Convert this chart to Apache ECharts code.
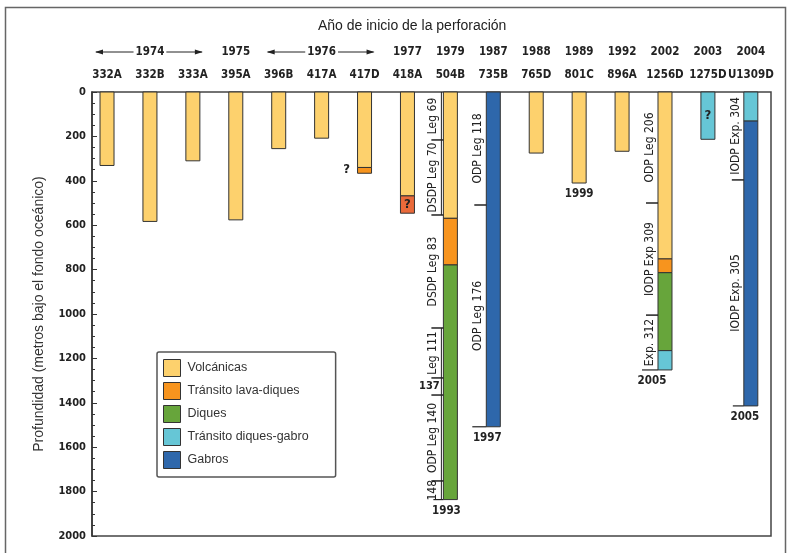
<!DOCTYPE html>
<html><head><meta charset="utf-8">
<script src="https://cdn.jsdelivr.net/npm/echarts@6/dist/echarts.min.js"></script>
<style>html,body{margin:0;padding:0;background:#fff}#c{width:788px;height:553px}</style>
</head><body><div id="c"></div>
<script>
// ---------- DATA ----------
const sites = ['332A','332B','333A','395A','396B','417A','417D','418A','504B','735B','765D','801C','896A','1256D','1275D','U1309D'];
const yearLabels = ['1974','1975','1976','1977','1979','1987','1988','1989','1992','2002','2003','2004'];
const yearFrom   = [0, 3, 4, 7, 8, 9, 10, 11, 12, 13, 14, 15];
const yearTo     = [2, 3, 6, 7, 8, 9, 10, 11, 12, 13, 14, 15];
const depthTicks = [0, 200, 400, 600, 800, 1000, 1200, 1400, 1600, 1800, 2000];

// intervals: [siteIndex, topDepth, bottomDepth] (m below seafloor)
const volcanicas = [[0,0,331],[1,0,583],[2,0,310],[3,0,576],[4,0,255],[5,0,208],[6,0,340],[7,0,468],[8,0,569],[10,0,275],[11,0,410],[12,0,267],[13,0,752]];
const transitoLava = [[6,340,366],[8,569,779],[13,752,814]];
const transitoLavaIncierto = [[7,468,546]];
const diques = [[8,779,1836],[13,814,1165]];
const transitoGabro = [[13,1165,1252],[14,0,213],[15,0,131]];
const gabros = [[9,0,1508],[15,131,1414]];

// drilling legs: [siteIndex, top, bottom, label, horizontal?]
const legs = [
  [8,0,216,'Leg 69'],[8,216,554,'DSDP Leg 70'],[8,554,1063,'DSDP Leg 83'],[8,1063,1288,'Leg 111'],
  [8,1288,1365,'137','h'],[8,1365,1752,'ODP Leg 140'],[8,1752,1836,'148'],
  [9,0,509,'ODP Leg 118'],[9,509,1508,'ODP Leg 176'],
  [13,0,500,'ODP Leg 206'],[13,500,1005,'IODP Exp 309'],[13,1005,1252,'Exp. 312'],
  [15,0,396,'IODP Exp. 304'],[15,396,1414,'IODP Exp. 305']
];
const brackets = [[8,0,554],[8,1063,1836]];
const holeEnds = [[11,410,'1999'],[8,1836,'1993'],[9,1508,'1997'],[13,1252,'2005'],[15,1414,'2005']];
const questionMarks = [[6,351],[7,507],[14,108]];

// ---------- STYLE ----------
const COND = '"DejaVu Sans Condensed","Liberation Sans Narrow",sans-serif';
const SANS = '"Liberation Sans",Arial,sans-serif';
const INK = '#222';
const colors = {
  volc:'#fdd16d', lava:'#f7941e', lavaQ:'#ea6a3a', diq:'#67a53b', dg:'#66c6d6', gab:'#2e67ab'
};
const legDx = {8:-18, 9:-15, 13:-15, 15:-15};
const endDx = {11:0, 8:-4, 9:-6, 13:-13, 15:-6};
const endLineX = {8:-17, 9:-21, 13:-23, 15:-18};
const qDx = {6:-18, 7:0, 14:0};
const BAR_W = 14;

function barSeries(name, data, color) {
  return {
    name, type:'custom', clip:false, silent:true,
    itemStyle:{color, borderColor:'#333', borderWidth:1},
    data,
    encode:{x:0, y:[1,2]},
    renderItem(params, api) {
      const i = api.value(0);
      const a = api.coord([i, api.value(1)]);
      const b = api.coord([i, api.value(2)]);
      return {type:'rect', shape:{x:a[0]-BAR_W/2, y:a[1], width:BAR_W, height:b[1]-a[1]},
        style:{fill:color, stroke:'#333', lineWidth:1}};
    }
  };
}

const chart = echarts.init(document.getElementById('c'), null, {renderer:'canvas'});
const option = {
  animation:false,
  backgroundColor:'#fff',
  title:{text:'Año de inicio de la perforación', left:313, top:14,
    textStyle:{fontFamily:SANS, fontSize:14, fontWeight:'normal', color:INK}},
  grid:{left:92, right:17, top:92, bottom:17, show:true, borderColor:'#444', borderWidth:1.5, backgroundColor:'transparent'},
  xAxis:{type:'value', min:-0.35, max:15.47, show:false},
  yAxis:{type:'value', inverse:true, min:depthTicks[0], max:depthTicks[depthTicks.length-1], interval:200,
    name:'Profundidad (metros bajo el fondo oceánico)', nameLocation:'middle', nameGap:46, nameMoveOverlap:false,
    nameTextStyle:{fontFamily:SANS, fontSize:14, color:'#333'},
    axisLine:{show:true, onZero:false, lineStyle:{color:'#333', width:1.5}},
    axisTick:{show:true, inside:true, length:5, lineStyle:{color:'#333'}},
    minorTick:{show:true, splitNumber:4, length:3, lineStyle:{color:'#333'}},
    splitLine:{show:false},
    axisLabel:{fontFamily:COND, fontWeight:'bold', fontSize:11, color:INK, margin:6, formatter:v=>String(v)}
  },
  legend:{
    orient:'vertical', left:157, top:352,
    data:['Volcánicas','Tránsito lava-diques','Diques','Tránsito diques-gabro','Gabros'],
    itemWidth:17, itemHeight:17, itemGap:5, icon:'rect',
    itemStyle:{borderColor:'#333', borderWidth:1},
    borderColor:'#555', borderWidth:1.5, borderRadius:2, padding:[7,27,8,6],
    textStyle:{fontFamily:SANS, fontSize:12.5, color:'#333', padding:[0,0,0,2]},
    selectedMode:false
  },
  graphic:[{type:'rect', z:-10, silent:true, shape:{x:5.5, y:7.5, width:780, height:620},
    style:{fill:'none', stroke:'#666', lineWidth:1.5}}],
  series:[
    barSeries('Volcánicas', volcanicas, colors.volc),
    barSeries('Tránsito lava-diques', transitoLava, colors.lava),
    barSeries('Tránsito incierto', transitoLavaIncierto, colors.lavaQ),
    barSeries('Diques', diques, colors.diq),
    barSeries('Tránsito diques-gabro', transitoGabro, colors.dg),
    barSeries('Gabros', gabros, colors.gab),
    { // site labels
      type:'custom', clip:false, silent:true, data:sites.map((s,i)=>[i,0]),
      renderItem(params, api){
        const p = api.coord([api.value(0), 0]);
        return {type:'text', x:p[0], y:p[1]-17, style:{text:sites[params.dataIndex], font:'bold 11.5px '+COND, fill:INK, align:'center', verticalAlign:'middle'}};
      }
    },
    { // year header
      type:'custom', clip:false, silent:true, data:yearLabels.map((t,k)=>[yearFrom[k], 0, yearTo[k]]),
      renderItem(params, api){
        const a = api.coord([api.value(0), 0]), b = api.coord([api.value(2), 0]);
        const y = a[1]-40, xm = (a[0]+b[0])/2;
        const ch = [];
        if (api.value(0) !== api.value(2)) {
          const xl = a[0]-11, xr = b[0]+9;
          ch.push({type:'line', shape:{x1:xl,y1:y,x2:xr,y2:y}, style:{stroke:INK, lineWidth:1}});
          ch.push({type:'polygon', shape:{points:[[xl-1,y],[xl+7,y-2.5],[xl+7,y+2.5]]}, style:{fill:INK}});
          ch.push({type:'polygon', shape:{points:[[xr+1,y],[xr-7,y-2.5],[xr-7,y+2.5]]}, style:{fill:INK}});
        }
        ch.push({type:'text', x:xm, y:y, z2:5, style:{text:yearLabels[params.dataIndex], font:'bold 11.5px '+COND, fill:INK, align:'center', verticalAlign:'middle', backgroundColor:'#fff', padding:[0,2]}});
        return {type:'group', children:ch};
      }
    },
    { // legs
      type:'custom', clip:false, silent:true, data:legs.map(l=>[l[0], l[1], l[2]]),
      renderItem(params, api){
        const L = legs[params.dataIndex];
        const a = api.coord([L[0], L[1]]), b = api.coord([L[0], L[2]]);
        const cx = a[0];
        const horiz = L[4] === 'h';
        const ch = [];
        ch.push({type:'text', x:cx+(horiz?-21:legDx[L[0]]), y:(a[1]+b[1])/2, rotation:horiz?0:Math.PI/2,
          style:{text:L[3], font:(horiz?'bold 11px ':'12px ')+COND, fill:INK, align:'center', verticalAlign:'middle'}});
        const isLast = !legs.some(o => o[0]===L[0] && o[1]===L[2]);
        const x1 = isLast ? cx+endLineX[L[0]] : cx-19;
        ch.push({type:'line', shape:{x1:x1, y1:b[1], x2:cx-7, y2:b[1]}, style:{stroke:INK, lineWidth:isLast?1.2:1.5}});
        return {type:'group', children:ch};
      }
    },
    { // brackets
      type:'custom', clip:false, silent:true, data:brackets,
      renderItem(params, api){
        const a = api.coord([api.value(0), api.value(1)]), b = api.coord([api.value(0), api.value(2)]);
        return {type:'line', shape:{x1:a[0]-9, y1:a[1], x2:a[0]-9, y2:b[1]}, style:{stroke:INK, lineWidth:1}};
      }
    },
    { // hole end years
      type:'custom', clip:false, silent:true, data:holeEnds.map(h=>[h[0], h[1]]),
      renderItem(params, api){
        const h = holeEnds[params.dataIndex];
        const p = api.coord([h[0], h[1]]);
        return {type:'text', x:p[0]+endDx[h[0]], y:p[1]+11, style:{text:h[2], font:'bold 11.5px '+COND, fill:INK, align:'center', verticalAlign:'middle'}};
      }
    },
    { // question marks
      type:'custom', clip:false, silent:true, data:questionMarks,
      renderItem(params, api){
        const p = api.coord([api.value(0), api.value(1)]);
        return {type:'text', x:p[0]+qDx[api.value(0)], y:p[1], style:{text:'?', font:'bold 13px '+COND, fill:INK, align:'center', verticalAlign:'middle'}};
      }
    }
  ]
};
chart.setOption(option);
</script>
</body></html>
